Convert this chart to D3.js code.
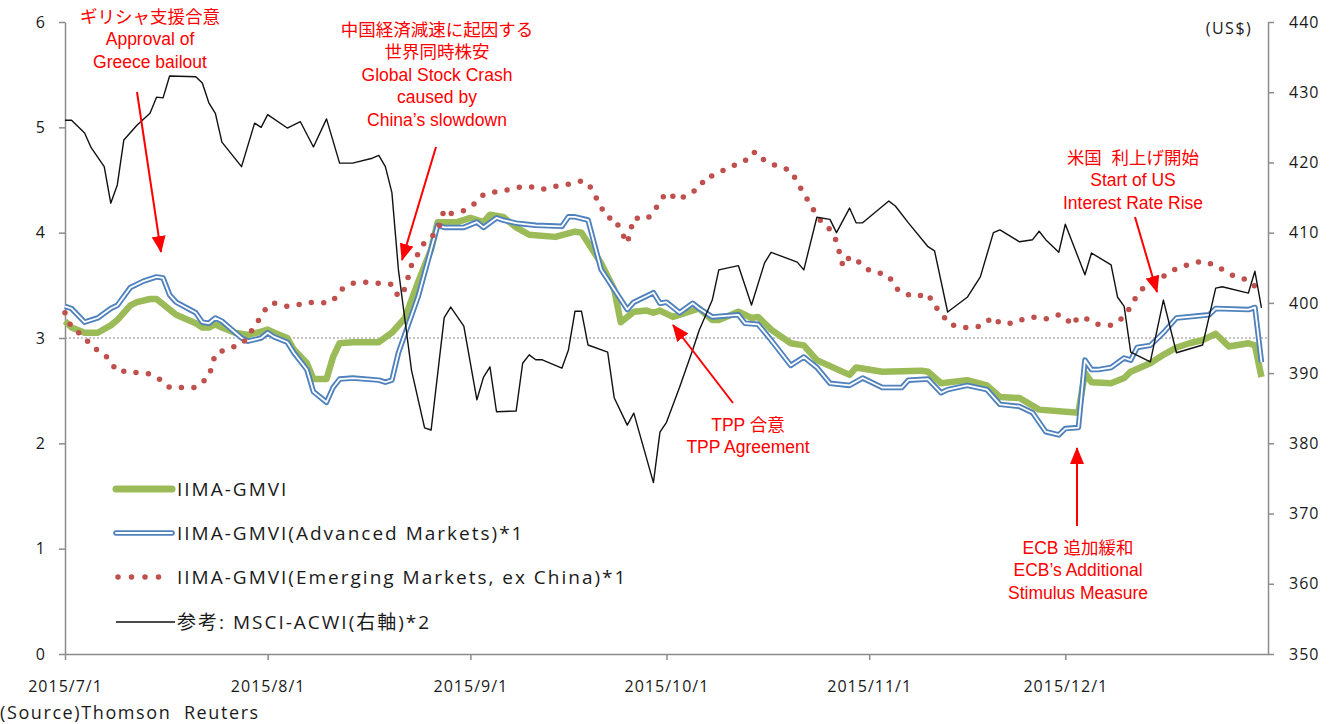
<!DOCTYPE html>
<html>
<head>
<meta charset="utf-8">
<script src="https://cdn.jsdelivr.net/npm/d3@7"></script>
<style>
  body { margin: 0; background: #fff; }
  svg { display: block; }
</style>
</head>
<body>
<div id="chart"></div>
<script>
// IIMA-GMVI (left axis)
const gmvi = [["2015-07-01",3.16],["2015-07-02",3.10],["2015-07-04",3.05],["2015-07-06",3.05],["2015-07-08",3.12],["2015-07-09",3.17],["2015-07-11",3.31],["2015-07-12",3.34],["2015-07-14",3.37],["2015-07-15",3.37],["2015-07-17",3.27],["2015-07-18",3.22],["2015-07-21",3.14],["2015-07-22",3.10],["2015-07-23",3.10],["2015-07-24",3.13],["2015-07-25",3.10],["2015-07-27",3.05],["2015-07-29",3.03],["2015-07-31",3.06],["2015-08-01",3.08],["2015-08-02",3.05],["2015-08-04",3.00],["2015-08-05",2.89],["2015-08-07",2.76],["2015-08-08",2.61],["2015-08-10",2.61],["2015-08-11",2.82],["2015-08-12",2.95],["2015-08-14",2.96],["2015-08-18",2.96],["2015-08-20",3.05],["2015-08-22",3.19],["2015-08-24",3.53],["2015-08-26",3.84],["2015-08-27",4.10],["2015-08-30",4.10],["2015-09-01",4.14],["2015-09-03",4.10],["2015-09-04",4.17],["2015-09-06",4.15],["2015-09-08",4.05],["2015-09-10",3.98],["2015-09-14",3.96],["2015-09-17",4.01],["2015-09-18",4.00],["2015-09-21",3.71],["2015-09-23",3.46],["2015-09-24",3.15],["2015-09-26",3.25],["2015-09-28",3.26],["2015-09-29",3.24],["2015-09-30",3.26],["2015-10-02",3.20],["2015-10-06",3.28],["2015-10-08",3.17],["2015-10-09",3.17],["2015-10-12",3.25],["2015-10-14",3.19],["2015-10-15",3.20],["2015-10-17",3.08],["2015-10-20",2.95],["2015-10-22",2.93],["2015-10-24",2.79],["2015-10-29",2.65],["2015-10-30",2.72],["2015-11-03",2.68],["2015-11-09",2.69],["2015-11-10",2.68],["2015-11-12",2.57],["2015-11-16",2.60],["2015-11-19",2.55],["2015-11-21",2.44],["2015-11-24",2.43],["2015-11-27",2.32],["2015-12-03",2.29],["2015-12-04",2.67],["2015-12-05",2.58],["2015-12-08",2.57],["2015-12-10",2.62],["2015-12-11",2.68],["2015-12-14",2.76],["2015-12-16",2.84],["2015-12-18",2.91],["2015-12-20",2.95],["2015-12-22",2.98],["2015-12-24",3.04],["2015-12-26",2.92],["2015-12-29",2.95],["2015-12-30",2.93],["2015-12-31",2.63]];

// IIMA-GMVI (Advanced Markets)
const advanced = [["2015-07-01",3.30],["2015-07-02",3.28],["2015-07-04",3.15],["2015-07-06",3.19],["2015-07-08",3.28],["2015-07-09",3.31],["2015-07-11",3.48],["2015-07-13",3.54],["2015-07-15",3.58],["2015-07-16",3.57],["2015-07-17",3.41],["2015-07-18",3.34],["2015-07-21",3.24],["2015-07-22",3.15],["2015-07-23",3.14],["2015-07-24",3.19],["2015-07-25",3.16],["2015-07-28",3.00],["2015-07-29",2.97],["2015-07-31",3.00],["2015-08-01",3.05],["2015-08-02",3.01],["2015-08-04",2.96],["2015-08-05",2.86],["2015-08-07",2.70],["2015-08-08",2.49],["2015-08-10",2.39],["2015-08-11",2.53],["2015-08-12",2.61],["2015-08-14",2.62],["2015-08-18",2.60],["2015-08-19",2.58],["2015-08-20",2.60],["2015-08-21",2.86],["2015-08-24",3.39],["2015-08-27",4.07],["2015-08-28",4.05],["2015-08-31",4.05],["2015-09-02",4.10],["2015-09-03",4.05],["2015-09-05",4.14],["2015-09-06",4.12],["2015-09-08",4.09],["2015-09-11",4.07],["2015-09-15",4.06],["2015-09-16",4.15],["2015-09-17",4.15],["2015-09-19",4.12],["2015-09-21",3.65],["2015-09-25",3.27],["2015-09-26",3.34],["2015-09-29",3.43],["2015-09-30",3.33],["2015-10-01",3.34],["2015-10-03",3.24],["2015-10-05",3.33],["2015-10-06",3.28],["2015-10-08",3.20],["2015-10-12",3.22],["2015-10-13",3.14],["2015-10-15",3.13],["2015-10-17",2.98],["2015-10-20",2.74],["2015-10-22",2.82],["2015-10-24",2.72],["2015-10-26",2.57],["2015-10-29",2.55],["2015-10-31",2.62],["2015-11-03",2.53],["2015-11-06",2.53],["2015-11-07",2.60],["2015-11-10",2.61],["2015-11-12",2.48],["2015-11-13",2.51],["2015-11-16",2.55],["2015-11-19",2.51],["2015-11-21",2.37],["2015-11-24",2.35],["2015-11-26",2.29],["2015-11-28",2.11],["2015-11-30",2.08],["2015-12-01",2.14],["2015-12-03",2.15],["2015-12-04",2.79],["2015-12-05",2.70],["2015-12-06",2.70],["2015-12-08",2.72],["2015-12-10",2.81],["2015-12-11",2.79],["2015-12-12",2.91],["2015-12-14",2.93],["2015-12-16",3.05],["2015-12-18",3.19],["2015-12-23",3.22],["2015-12-24",3.28],["2015-12-29",3.27],["2015-12-30",3.29],["2015-12-31",2.77]];

// IIMA-GMVI (Emerging Markets, ex China)
const emerging = [["2015-07-01",3.24],["2015-07-02",3.10],["2015-07-04",3.01],["2015-07-05",2.92],["2015-07-07",2.85],["2015-07-08",2.77],["2015-07-09",2.68],["2015-07-11",2.69],["2015-07-12",2.67],["2015-07-14",2.66],["2015-07-16",2.59],["2015-07-17",2.53],["2015-07-19",2.53],["2015-07-21",2.53],["2015-07-23",2.63],["2015-07-24",2.85],["2015-07-26",2.90],["2015-07-28",2.94],["2015-07-29",3.01],["2015-07-30",3.12],["2015-07-31",3.20],["2015-08-01",3.31],["2015-08-02",3.33],["2015-08-04",3.30],["2015-08-06",3.32],["2015-08-07",3.34],["2015-08-09",3.33],["2015-08-11",3.35],["2015-08-12",3.45],["2015-08-14",3.52],["2015-08-16",3.53],["2015-08-18",3.52],["2015-08-20",3.51],["2015-08-21",3.39],["2015-08-22",3.47],["2015-08-23",3.69],["2015-08-25",3.91],["2015-08-27",4.01],["2015-08-28",4.22],["2015-08-29",4.18],["2015-08-31",4.21],["2015-09-02",4.29],["2015-09-03",4.36],["2015-09-05",4.39],["2015-09-07",4.41],["2015-09-09",4.44],["2015-09-11",4.43],["2015-09-12",4.41],["2015-09-14",4.44],["2015-09-16",4.46],["2015-09-18",4.49],["2015-09-19",4.47],["2015-09-20",4.36],["2015-09-21",4.24],["2015-09-22",4.14],["2015-09-23",4.14],["2015-09-25",3.90],["2015-09-26",4.14],["2015-09-28",4.13],["2015-09-29",4.19],["2015-09-30",4.30],["2015-10-01",4.38],["2015-10-03",4.31],["2015-10-04",4.36],["2015-10-06",4.42],["2015-10-07",4.53],["2015-10-08",4.54],["2015-10-10",4.60],["2015-10-11",4.63],["2015-10-13",4.68],["2015-10-14",4.76],["2015-10-15",4.76],["2015-10-16",4.68],["2015-10-18",4.63],["2015-10-20",4.59],["2015-10-21",4.48],["2015-10-22",4.37],["2015-10-23",4.27],["2015-10-24",4.16],["2015-10-25",4.08],["2015-10-26",4.03],["2015-10-27",3.92],["2015-10-28",3.68],["2015-10-29",3.77],["2015-10-31",3.70],["2015-11-01",3.64],["2015-11-03",3.61],["2015-11-04",3.59],["2015-11-05",3.48],["2015-11-06",3.43],["2015-11-08",3.39],["2015-11-10",3.42],["2015-11-11",3.30],["2015-11-12",3.25],["2015-11-13",3.14],["2015-11-15",3.10],["2015-11-16",3.10],["2015-11-18",3.11],["2015-11-20",3.20],["2015-11-21",3.14],["2015-11-23",3.14],["2015-11-25",3.19],["2015-11-26",3.20],["2015-11-28",3.18],["2015-11-30",3.22],["2015-12-01",3.20],["2015-12-02",3.12],["2015-12-03",3.20],["2015-12-05",3.17],["2015-12-06",3.13],["2015-12-08",3.12],["2015-12-10",3.20],["2015-12-11",3.30],["2015-12-12",3.41],["2015-12-13",3.48],["2015-12-15",3.55],["2015-12-17",3.62],["2015-12-18",3.66],["2015-12-20",3.70],["2015-12-22",3.73],["2015-12-24",3.69],["2015-12-25",3.65],["2015-12-27",3.58],["2015-12-29",3.55],["2015-12-30",3.49],["2015-12-31",3.46]];

// MSCI-ACWI (right axis, US$)
const msci = [["2015-07-01",426.0],["2015-07-02",426.0],["2015-07-04",424.2],["2015-07-05",422.1],["2015-07-07",419.4],["2015-07-08",414.2],["2015-07-09",416.8],["2015-07-10",423.2],["2015-07-12",425.3],["2015-07-14",427.0],["2015-07-15",429.3],["2015-07-16",429.2],["2015-07-17",432.3],["2015-07-21",432.2],["2015-07-22",431.3],["2015-07-23",428.5],["2015-07-24",427.0],["2015-07-25",422.9],["2015-07-28",419.4],["2015-07-30",425.6],["2015-07-31",425.0],["2015-08-01",426.8],["2015-08-04",424.9],["2015-08-06",425.8],["2015-08-08",422.2],["2015-08-10",426.2],["2015-08-12",419.9],["2015-08-14",419.9],["2015-08-17",420.6],["2015-08-18",421.0],["2015-08-19",419.4],["2015-08-20",415.7],["2015-08-21",404.7],["2015-08-23",390.4],["2015-08-25",382.2],["2015-08-26",381.9],["2015-08-28",397.9],["2015-08-29",399.4],["2015-08-31",396.7],["2015-09-02",386.2],["2015-09-03",389.4],["2015-09-04",390.9],["2015-09-05",384.5],["2015-09-08",384.6],["2015-09-09",391.4],["2015-09-10",392.6],["2015-09-11",391.9],["2015-09-12",391.9],["2015-09-15",390.7],["2015-09-16",393.3],["2015-09-17",398.8],["2015-09-18",398.8],["2015-09-19",394.0],["2015-09-22",393.0],["2015-09-23",386.5],["2015-09-25",382.6],["2015-09-26",384.3],["2015-09-29",374.4],["2015-09-30",381.6],["2015-10-01",383.0],["2015-10-03",388.0],["2015-10-05",393.3],["2015-10-06",396.1],["2015-10-08",400.4],["2015-10-09",404.7],["2015-10-12",405.3],["2015-10-14",399.7],["2015-10-16",405.7],["2015-10-17",407.2],["2015-10-21",405.8],["2015-10-22",404.7],["2015-10-24",412.2],["2015-10-26",411.9],["2015-10-27",410.0],["2015-10-29",413.5],["2015-10-30",411.4],["2015-10-31",411.4],["2015-11-04",414.5],["2015-11-05",413.8],["2015-11-07",411.4],["2015-11-10",408.0],["2015-11-11",407.4],["2015-11-13",398.7],["2015-11-16",400.8],["2015-11-18",403.7],["2015-11-20",410.0],["2015-11-21",410.4],["2015-11-24",408.7],["2015-11-26",409.0],["2015-11-27",410.2],["2015-11-28",409.0],["2015-11-30",407.2],["2015-12-01",411.2],["2015-12-04",404.0],["2015-12-05",407.1],["2015-12-08",405.4],["2015-12-09",400.8],["2015-12-10",399.5],["2015-12-11",393.0],["2015-12-14",391.6],["2015-12-16",400.4],["2015-12-18",392.9],["2015-12-22",394.0],["2015-12-24",402.1],["2015-12-25",402.3],["2015-12-29",401.4],["2015-12-30",404.5],["2015-12-31",399.3]];

const monthTicks = ["2015-07-01","2015-08-01","2015-09-01","2015-10-01","2015-11-01","2015-12-01"];
const leftTicks = [0, 1, 2, 3, 4, 5, 6];
const rightTicks = [350, 360, 370, 380, 390, 400, 410, 420, 430, 440];

const legendLabels = ["IIMA-GMVI", "IIMA-GMVI(Advanced Markets)*1", "IIMA-GMVI(Emerging Markets, ex China)*1", "参考: MSCI-ACWI(右軸)*2"];

const notes = [
    { lines: ["ギリシャ支援合意", "Approval of", "Greece bailout"], x: 150, y: 23, from: [137, 92], to: [161, 252] },
    { lines: ["中国経済減速に起因する", "世界同時株安", "Global Stock Crash", "caused by", "China’s slowdown"], x: 437, y: 36, from: [436, 147], to: [402, 260] },
    { lines: ["TPP 合意", "TPP Agreement"], x: 748, y: 431, from: [733, 403], to: [673, 325] },
    { lines: ["米国  利上げ開始", "Start of US", "Interest Rate Rise"], x: 1133, y: 164, from: [1135, 217], to: [1157, 292] },
    { lines: ["ECB 追加緩和", "ECB’s Additional", "Stimulus Measure"], x: 1078, y: 554, from: [1077, 526], to: [1077, 448] }
];

const W = 1338, H = 724;
const plotLeft = 65, plotRight = 1268, plotTop = 22, plotBottom = 654;
const parse = d3.timeParse("%Y-%m-%d");
const font = "'Open Sans', 'Noto Sans CJK JP', sans-serif";
const noteFont = "'Liberation Sans', 'Noto Sans CJK JP', sans-serif";

const svg = d3.select("#chart").append("svg")
    .attr("width", W)
    .attr("height", H)
    .style("background", "#fff");

const x = d3.scaleTime()
    .domain([parse("2015-07-01"), parse("2016-01-01")])
    .range([plotLeft, plotRight]);
const yL = d3.scaleLinear().domain([0, 6]).range([plotBottom, plotTop]);
const yR = d3.scaleLinear().domain([350, 440]).range([plotBottom, plotTop]);

// reference line at 3
svg.append("line")
    .attr("x1", plotLeft).attr("x2", plotRight)
    .attr("y1", yL(3)).attr("y2", yL(3))
    .attr("stroke", "#8a8a8a")
    .attr("stroke-width", 1)
    .attr("stroke-dasharray", "2,2");

// axes
const axisColor = "#8c8c8c";
function styleAxis(g) {
    g.selectAll("path.domain").attr("stroke", axisColor).attr("stroke-width", 1.5);
    g.selectAll(".tick line").attr("stroke", axisColor).attr("stroke-width", 1.5);
    g.selectAll(".tick text")
        .attr("fill", "#1a1a1a")
        .style("font-family", font)
        .style("font-size", "16px")
        .style("letter-spacing", "1px");
}

svg.append("g")
    .attr("transform", "translate(" + plotLeft + ",0)")
    .call(d3.axisLeft(yL).tickValues(leftTicks).tickFormat(d3.format("d")).tickSize(6).tickSizeOuter(0).tickPadding(13))
    .call(styleAxis);

svg.append("g")
    .attr("transform", "translate(" + plotRight + ",0)")
    .call(d3.axisRight(yR).tickValues(rightTicks).tickSize(6).tickSizeOuter(0).tickPadding(15))
    .call(styleAxis);

svg.append("g")
    .attr("transform", "translate(0," + plotBottom + ")")
    .call(d3.axisBottom(x).tickValues(monthTicks.map(parse)).tickFormat(d3.timeFormat("%Y/%-m/%-d")).tickSize(6).tickSizeOuter(0).tickPadding(21))
    .call(styleAxis);

svg.append("text")
    .attr("x", 1229).attr("y", 34)
    .attr("text-anchor", "middle")
    .attr("fill", "#1a1a1a")
    .style("font-family", font)
    .style("font-size", "16px")
    .style("letter-spacing", "1.5px")
    .text("(US$)");

// series
const lineL = d3.line().x(d => x(parse(d[0]))).y(d => yL(d[1]));
const lineR = d3.line().x(d => x(parse(d[0]))).y(d => yR(d[1]));

svg.append("path").datum(gmvi)
    .attr("d", lineL)
    .attr("fill", "none")
    .attr("stroke", "#9bbb59")
    .attr("stroke-width", 6.5)
    .attr("stroke-linejoin", "round");

svg.append("path").datum(advanced)
    .attr("d", lineL)
    .attr("fill", "none")
    .attr("stroke", "#4f81bd")
    .attr("stroke-width", 5.5)
    .attr("stroke-linejoin", "round");
svg.append("path").datum(advanced)
    .attr("d", lineL)
    .attr("fill", "none")
    .attr("stroke", "#fff")
    .attr("stroke-width", 1.8)
    .attr("stroke-linejoin", "round");

svg.append("path").datum(emerging)
    .attr("d", lineL)
    .attr("fill", "none")
    .attr("stroke", "#c0504d")
    .attr("stroke-width", 5.5)
    .attr("stroke-linecap", "round")
    .attr("stroke-dasharray", "0,12.5");

svg.append("path").datum(msci)
    .attr("d", lineR)
    .attr("fill", "none")
    .attr("stroke", "#111")
    .attr("stroke-width", 1.4)
    .attr("stroke-linejoin", "round");

// legend
const legend = svg.append("g");
const legendY = [489, 533, 577, 622];
legend.append("line").attr("x1", 116).attr("x2", 172).attr("y1", legendY[0]).attr("y2", legendY[0])
    .attr("stroke", "#9bbb59").attr("stroke-width", 7).attr("stroke-linecap", "round");
legend.append("line").attr("x1", 116).attr("x2", 172).attr("y1", legendY[1]).attr("y2", legendY[1])
    .attr("stroke", "#4f81bd").attr("stroke-width", 5.5).attr("stroke-linecap", "round");
legend.append("line").attr("x1", 116).attr("x2", 172).attr("y1", legendY[1]).attr("y2", legendY[1])
    .attr("stroke", "#fff").attr("stroke-width", 1.8).attr("stroke-linecap", "round");
legend.append("line").attr("x1", 118).attr("x2", 172).attr("y1", legendY[2]).attr("y2", legendY[2])
    .attr("stroke", "#c0504d").attr("stroke-width", 5.5).attr("stroke-linecap", "round").attr("stroke-dasharray", "0,13.5");
legend.append("line").attr("x1", 116).attr("x2", 175).attr("y1", legendY[3]).attr("y2", legendY[3])
    .attr("stroke", "#111").attr("stroke-width", 1.4);

legend.selectAll("text.lbl")
    .data(legendLabels)
    .enter()
    .append("text")
    .attr("class", "lbl")
    .attr("x", 177)
    .attr("y", (d, i) => legendY[i] + 7)
    .attr("fill", "#1a1a1a")
    .style("font-family", font)
    .style("font-size", "19px")
    .style("letter-spacing", "2px")
    .text(d => d);

// annotations
const defs = svg.append("defs");
defs.append("marker")
    .attr("id", "head")
    .attr("markerUnits", "userSpaceOnUse")
    .attr("markerWidth", 17).attr("markerHeight", 14)
    .attr("refX", 16).attr("refY", 7)
    .attr("orient", "auto")
    .append("path")
    .attr("d", "M0,0 L17,7 L0,14 Z")
    .attr("fill", "#ff0000");

const noteG = svg.append("g");
notes.forEach(n => {
    noteG.append("line")
        .attr("x1", n.from[0]).attr("y1", n.from[1])
        .attr("x2", n.to[0]).attr("y2", n.to[1])
        .attr("stroke", "#ff0000")
        .attr("stroke-width", 2)
        .attr("marker-end", "url(#head)");
    const t = noteG.append("text")
        .attr("text-anchor", "middle")
        .attr("fill", "#ff0000")
        .style("font-family", noteFont)
        .style("font-size", "17.5px")
        .style("white-space", "pre");
    n.lines.forEach((s, i) => {
        t.append("tspan").attr("x", n.x).attr("y", n.y + i * 22.4).text(s);
    });
});

svg.append("text")
    .attr("x", 0).attr("y", 719)
    .attr("fill", "#1a1a1a")
    .style("font-family", font)
    .style("font-size", "18px")
    .style("letter-spacing", "1.6px")
    .style("white-space", "pre")
    .text("(Source)Thomson  Reuters");
</script>
</body>
</html>
